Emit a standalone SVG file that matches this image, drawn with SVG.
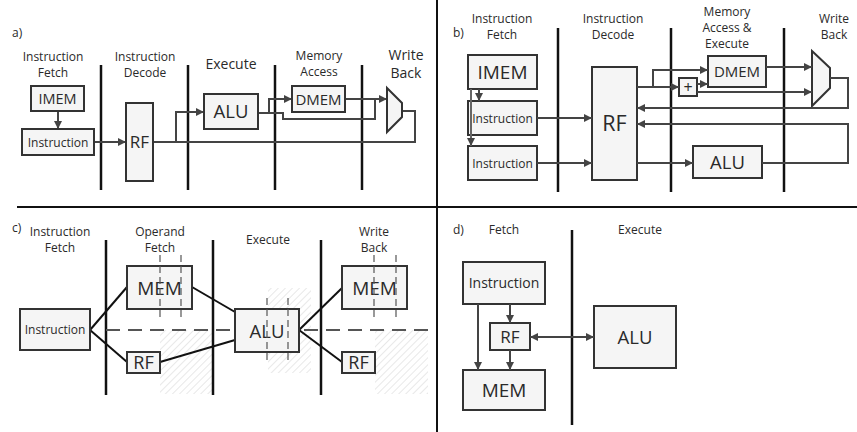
<svg xmlns="http://www.w3.org/2000/svg" width="857" height="432" viewBox="0 0 857 432">
<style>
text{font-family:"Open Sans","Noto Sans","DejaVu Sans",sans-serif;fill:#2a2a2a;text-anchor:middle}
.lbl{font-size:12px}
.big{font-size:14px}
.tag{text-anchor:start;font-size:12px}
.box{fill:#f5f5f5;stroke:#333;stroke-width:2}
.stage{stroke:#111;stroke-width:2.5;fill:none}
.div{stroke:#111;stroke-width:2;fill:none}
.w{stroke:#444;stroke-width:2;fill:none}
.wa{stroke:#444;stroke-width:2;fill:none;marker-end:url(#ah)}
.k{stroke:#111;stroke-width:2;fill:none}
.dash{stroke:#555;stroke-width:1.2;stroke-dasharray:7 4;fill:none}
.hdash{stroke:#555;stroke-width:2;stroke-dasharray:14 8;fill:none}
.hatch{fill:url(#hp)}
</style>
<defs>
<marker id="ah" markerUnits="userSpaceOnUse" markerWidth="9" markerHeight="8" refX="8" refY="4" orient="auto-start-reverse">
<path d="M0,0 L8,4 L0,8 z" fill="#444"/>
</marker>
<pattern id="hp" patternUnits="userSpaceOnUse" width="5" height="5" patternTransform="rotate(45)">
<line x1="0" y1="0" x2="0" y2="5" stroke="#d8d8d8" stroke-width="1.2"/>
</pattern>
</defs>

<g id="dividers">
<line class="div" x1="17" y1="207" x2="857" y2="207"/>
<line class="div" x1="437" y1="0" x2="437" y2="432"/>
</g>

<!-- ===== a) ===== -->
<g id="a-labels">
<text class="tag" x="12" y="37">a)</text>
<text class="lbl" x="53" y="61">Instruction</text>
<text class="lbl" x="53" y="77">Fetch</text>
<text class="lbl" x="145" y="61">Instruction</text>
<text class="lbl" x="145" y="77">Decode</text>
<text class="big" x="231" y="69">Execute</text>
<text class="lbl" x="319" y="60">Memory</text>
<text class="lbl" x="319" y="76">Access</text>
<text class="big" x="406" y="60">Write</text>
<text class="big" x="406" y="78">Back</text>
</g>
<g id="a-stages">
<line class="stage" x1="101" y1="65" x2="101" y2="190"/>
<line class="stage" x1="188" y1="65" x2="188" y2="190"/>
<line class="stage" x1="275" y1="65" x2="275" y2="190"/>
<line class="stage" x1="362" y1="65" x2="362" y2="190"/>
</g>
<g id="a-connectors">
<line class="wa" x1="58" y1="111" x2="58" y2="129"/>
<line class="wa" x1="94" y1="142" x2="126" y2="142"/>
<path class="w" d="M153,142 H415 V111 H402"/>
<path class="wa" d="M176,142 V112 H204"/>
<path class="w" d="M258,113 H283 V119 H375 V99"/>
<path class="wa" d="M269,113 V99 H292"/>
<line class="wa" x1="345" y1="99" x2="387" y2="99"/>
</g>
<g id="a-imem"><rect class="box" x="31" y="86" width="53" height="25"/><text x="57.5" y="104" style="font-size:14.5px">IMEM</text></g>
<g id="a-instr"><rect class="box" x="22" y="129" width="72" height="26"/><text class="lbl" x="58" y="146.5">Instruction</text></g>
<g id="a-rf"><rect class="box" x="126" y="103" width="27" height="78"/><text x="139.5" y="148" style="font-size:17px">RF</text></g>
<g id="a-alu"><rect class="box" x="204" y="94" width="54" height="35"/><text x="231" y="118" style="font-size:18.5px">ALU</text></g>
<g id="a-dmem"><rect class="box" x="292" y="86" width="53" height="26"/><text x="318.5" y="104.5" style="font-size:15px">DMEM</text></g>
<g id="a-mux"><polygon class="box" points="387,88 402,103 402,117 387,132"/></g>

<!-- ===== b) ===== -->
<g id="b-labels">
<text class="tag" x="453" y="37">b)</text>
<text class="lbl" x="502" y="23">Instruction</text>
<text class="lbl" x="502" y="39">Fetch</text>
<text class="lbl" x="613" y="23">Instruction</text>
<text class="lbl" x="613" y="39">Decode</text>
<text class="lbl" x="727" y="16">Memory</text>
<text class="lbl" x="727" y="32">Access &amp;</text>
<text class="lbl" x="727" y="48">Execute</text>
<text class="lbl" x="834" y="23">Write</text>
<text class="lbl" x="834" y="39">Back</text>
</g>
<g id="b-stages">
<line class="stage" x1="558" y1="28" x2="558" y2="192"/>
<line class="stage" x1="671" y1="28" x2="671" y2="192"/>
<line class="stage" x1="784" y1="28" x2="784" y2="192"/>
</g>
<g id="b-imem"><rect class="box" x="468" y="55" width="69" height="34"/><text x="502.5" y="79" style="font-size:19px">IMEM</text></g>
<g id="b-instr1"><rect class="box" x="468" y="101" width="69" height="34"/><text class="lbl" x="502.5" y="122.5">Instruction</text></g>
<g id="b-instr2"><rect class="box" x="468" y="146" width="69" height="34"/><text class="lbl" x="502.5" y="167.5">Instruction</text></g>
<g id="b-rf"><rect class="box" x="592" y="67" width="45" height="113"/><text x="614.5" y="131" style="font-size:21.5px">RF</text></g>
<g id="b-plus"><rect class="box" x="679" y="78" width="18" height="18"/><text x="688" y="92.5" style="font-size:16px">+</text></g>
<g id="b-dmem"><rect class="box" x="708" y="56" width="58" height="31"/><text x="737" y="77" style="font-size:15px">DMEM</text></g>
<g id="b-mux"><polygon class="box" points="812,51 830,68 830,88 812,106"/></g>
<g id="b-alu"><rect class="box" x="693" y="146" width="69" height="32"/><text x="727.5" y="169" style="font-size:18.5px">ALU</text></g>
<g id="b-connectors">
<line class="wa" x1="479" y1="89" x2="479" y2="101"/>
<line class="wa" x1="471" y1="89" x2="471" y2="146" style="stroke:#666"/>
<line class="wa" x1="537" y1="118" x2="592" y2="118"/>
<line class="wa" x1="537" y1="163" x2="592" y2="163"/>
<line class="wa" x1="637" y1="87" x2="679" y2="87"/>
<path class="wa" d="M653,87 V70 H708"/>
<line class="wa" x1="697" y1="84" x2="708" y2="84"/>
<line class="wa" x1="697" y1="92" x2="812" y2="92"/>
<line class="wa" x1="766" y1="67" x2="812" y2="67"/>
<path class="wa" d="M830,78 H848 V108 H637"/>
<line class="wa" x1="637" y1="163" x2="693" y2="163"/>
<path class="wa" d="M762,163 H848 V124 H637"/>
</g>

<!-- ===== c) ===== -->
<g id="c-labels">
<text class="tag" x="12" y="232">c)</text>
<text class="lbl" x="60" y="236">Instruction</text>
<text class="lbl" x="60" y="252">Fetch</text>
<text class="lbl" x="160" y="236">Operand</text>
<text class="lbl" x="160" y="252">Fetch</text>
<text class="lbl" x="268" y="244">Execute</text>
<text class="lbl" x="374" y="236">Write</text>
<text class="lbl" x="374" y="252">Back</text>
</g>
<g id="c-hatch">
<rect class="hatch" x="160" y="330" width="53" height="64"/>
<rect class="hatch" x="268" y="288" width="43" height="85"/>
<rect class="hatch" x="375" y="330" width="53" height="64"/>
</g>
<g id="c-stages">
<line class="stage" x1="106" y1="240" x2="106" y2="395"/>
<line class="stage" x1="213" y1="240" x2="213" y2="395"/>
<line class="stage" x1="321" y1="240" x2="321" y2="395"/>
<line class="hdash" x1="106" y1="330" x2="430" y2="330"/>
</g>
<g id="c-connectors">
<line class="k" x1="90" y1="330" x2="127" y2="287"/>
<line class="k" x1="90" y1="330" x2="127" y2="362"/>
<line class="k" x1="192" y1="287" x2="235" y2="312"/>
<line class="k" x1="160" y1="362" x2="235" y2="340"/>
<line class="k" x1="299" y1="330" x2="342" y2="288"/>
<line class="k" x1="299" y1="330" x2="342" y2="362"/>
</g>
<g id="c-instr"><rect class="box" x="20" y="309" width="70" height="41"/><text class="lbl" x="55" y="334">Instruction</text></g>
<g id="c-mem1"><rect class="box" x="127" y="266" width="65" height="43"/><text x="159.5" y="294.5" style="font-size:19px">MEM</text></g>
<g id="c-rf1"><rect class="box" x="127" y="352" width="33" height="21"/><text x="143.5" y="369" style="font-size:18px">RF</text></g>
<g id="c-alu"><rect class="box" x="235" y="309" width="64" height="43"/><text x="267" y="337.5" style="font-size:18.5px">ALU</text></g>
<g id="c-mem2"><rect class="box" x="342" y="266" width="65" height="43"/><text x="374.5" y="294.5" style="font-size:19px">MEM</text></g>
<g id="c-rf2"><rect class="box" x="342" y="352" width="33" height="21"/><text x="358.5" y="369" style="font-size:18px">RF</text></g>
<g id="c-dashes">
<line class="dash" x1="160" y1="255" x2="160" y2="320"/>
<line class="dash" x1="181" y1="255" x2="181" y2="320"/>
<line class="dash" x1="267" y1="298" x2="267" y2="362"/>
<line class="dash" x1="288" y1="298" x2="288" y2="362"/>
<line class="dash" x1="374" y1="255" x2="374" y2="320"/>
<line class="dash" x1="396" y1="255" x2="396" y2="320"/>
</g>

<!-- ===== d) ===== -->
<g id="d-labels">
<text class="tag" x="453" y="234">d)</text>
<text class="lbl" x="504" y="234">Fetch</text>
<text class="lbl" x="640" y="234">Execute</text>
</g>
<g id="d-stages">
<line class="stage" x1="572" y1="230" x2="572" y2="425"/>
</g>
<g id="d-instr"><rect class="box" x="463" y="262" width="82" height="42"/><text x="504" y="288" style="font-size:14px">Instruction</text></g>
<g id="d-rf"><rect class="box" x="490" y="323" width="40" height="27"/><text x="510" y="342.5" style="font-size:17px">RF</text></g>
<g id="d-mem"><rect class="box" x="463" y="370" width="82" height="40"/><text x="504" y="397" style="font-size:19px">MEM</text></g>
<g id="d-alu"><rect class="box" x="594" y="306" width="82" height="62"/><text x="635" y="344" style="font-size:18.5px">ALU</text></g>
<g id="d-connectors">
<line class="wa" x1="510" y1="304" x2="510" y2="323"/>
<line class="wa" x1="478" y1="304" x2="478" y2="370"/>
<line class="wa" x1="510" y1="350" x2="510" y2="370"/>
<line class="wa" x1="530" y1="337" x2="594" y2="337" style="marker-start:url(#ah)"/>
</g>
</svg>
